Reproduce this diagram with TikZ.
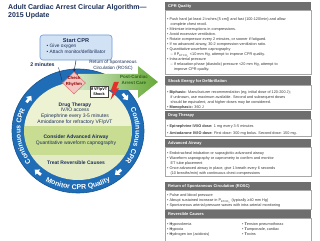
\documentclass[tikz,border=0pt]{standalone}
\usepackage{fontspec}
\setmainfont{Liberation Sans}
\usetikzlibrary{arrows.meta, calc, positioning, shapes.geometric, decorations.text}
\definecolor{navy}{HTML}{1B2F57}
\definecolor{ringblue}{HTML}{1F6DB6}
\definecolor{ringdark}{HTML}{17548F}
\definecolor{paleblue}{HTML}{D2E2F5}
\definecolor{boxblue}{HTML}{6A9AD6}
\definecolor{palegreen}{HTML}{EDF2D3}
\definecolor{lowgreen}{HTML}{E3EBC6}
\definecolor{bandgreen}{HTML}{C8DC92}
\definecolor{arrowgreen}{HTML}{67AA38}
\definecolor{dkgreen}{HTML}{2C641C}
\definecolor{pinkfill}{HTML}{F4C6C1}
\definecolor{pinkline}{HTML}{DC7B7B}
\definecolor{hdrgray}{HTML}{6E6E6E}
\definecolor{rulegray}{HTML}{A8A8A8}
\definecolor{txtgray}{HTML}{3A3A3A}
\definecolor{boltred}{HTML}{E2322B}
\newcommand{\pbul}{\textbullet\ }
\newcommand{\pind}{\hspace*{3.4pt}}
\newcommand{\petco}{P\textsubscript{ETCO\textsubscript{2}}}

\begin{document}
\begin{tikzpicture}[x=1pt, y=1pt,
  >={Stealth[length=3pt, width=3pt]},
  hdrtext/.style={anchor=west, text=white, inner sep=0pt,
    font=\fontsize{4}{5}\selectfont\bfseries},
  secbody/.style={fill=white, draw=rulegray, line width=0.4pt},
  bodytext/.style={anchor=north west, align=left, text=txtgray, inner sep=0pt,
    font=\fontsize{3.8}{5}\selectfont},
  innertext/.style={align=center, text=navy, inner sep=0pt,
    font=\fontsize{5}{5.7}\selectfont},
  ringtext/.style={decorate, decoration={text along path, text align=center,
    text color=white, text={|\fontsize{7}{8}\selectfont\bfseries|#1}}},
  cwarrow/.pic={\fill[white] (-4,-1.4) -- (0,-1.4) -- (0,-3.6) -- (4.2,0)
    -- (0,3.6) -- (0,1.4) -- (-4,1.4) -- cycle;}
]
\useasboundingbox (0,0) rectangle (320,240);
\clip (0,0) rectangle (320,240);
\fill[white] (0,0) rectangle (320,240);

% ── Title ──
\node[anchor=north west, align=left, inner sep=0pt, text=navy,
  font=\fontsize{7}{8}\selectfont\bfseries] (title) at (8,235.5)
  {Adult Cardiac Arrest Circular Algorithm—\\2015 Update};

% ── Start CPR ──
\node[draw=boxblue, fill=paleblue, rounded corners=3pt, line width=0.6pt,
  minimum width=72pt, minimum height=25pt] (start) at (76,192.5) {};
\node[text=navy, inner sep=0pt, font=\fontsize{5.6}{6}\selectfont\bfseries]
  (starttitle) at (76,199) {Start CPR};
\node[anchor=north west, align=left, text=navy, inner sep=0pt,
  font=\fontsize{4.8}{6}\selectfont] (startlist) at (46.5,196)
  {\pbul Give oxygen\\\pbul Attach monitor/defibrillator};

% ── Circle ──
\coordinate (ring) at (78,109);
\fill[ringblue] (ring) ellipse [x radius=66pt, y radius=62pt];
\draw[ringdark, line width=0.6pt] (ring) ellipse [x radius=66pt, y radius=62pt];
\begin{scope}
  \clip (ring) ellipse [x radius=54pt, y radius=49pt];
  \fill[palegreen] (20,114) rectangle (140,160);
  \fill[bandgreen] (20,85) rectangle (140,114);
  \fill[lowgreen] (20,55) rectangle (140,85);
\end{scope}

% ── Ring labels ──
\path[ringtext=Continuous CPR] ($(ring)+(215:57.5pt and 53.5pt)$)
  arc[start angle=215, end angle=157, x radius=57.5pt, y radius=53.5pt];
\path[ringtext=Continuous CPR] ($(ring)+(24:57.5pt and 53.5pt)$)
  arc[start angle=24, end angle=-34, x radius=57.5pt, y radius=53.5pt];
\path[ringtext=Monitor CPR Quality] ($(ring)+(230:62.5pt and 58.5pt)$)
  arc[start angle=230, end angle=310, x radius=62.5pt, y radius=58.5pt];

% ── Clockwise arrows on the ring ──
\pic[rotate=53] at ($(ring)+(145:60pt and 55.5pt)$) {cwarrow};
\pic[rotate=-50] at ($(ring)+(38:60pt and 55.5pt)$) {cwarrow};
\pic[rotate=-140] at ($(ring)+(-48:60pt and 55.5pt)$) {cwarrow};
\pic[rotate=140] at ($(ring)+(228:60pt and 55.5pt)$) {cwarrow};

% ── ROSC arrow ──
\shade[left color=arrowgreen!30, right color=arrowgreen]
  (78,150) -- (138,150) -- (138,142) -- (158,158) -- (138,174)
  -- (138,166) -- (78,166) -- cycle;
\node[align=center, text=dkgreen, inner sep=0pt,
  font=\fontsize{4.5}{5.8}\selectfont\bfseries] (postcare) at (134,160)
  {Post-Cardiac\\Arrest Care};
\node[align=center, text=navy, inner sep=0pt,
  font=\fontsize{4.6}{5.4}\selectfont] (rosc) at (113,174.5)
  {Return of Spontaneous\\Circulation (ROSC)};

% ── Check rhythm ──
\node[diamond, draw=pinkline, fill=pinkfill, line width=0.6pt, inner sep=0pt,
  minimum width=23pt, minimum height=22pt] (check) at (74,157) {};
\node[align=center, text=red!55!black, inner sep=0pt,
  font=\fontsize{4.3}{5.3}\selectfont\bfseries] (checktext) at (74,158.5)
  {Check\\Rhythm};
\draw[->, navy, line width=0.5pt] (start.south) -- (check.north);

% ── Shock ──
\node[draw=black!75, fill=white, line width=0.4pt, align=center, inner sep=0.6pt,
  minimum width=18pt, minimum height=11pt,
  font=\fontsize{3.8}{4.4}\selectfont\bfseries] (shock) at (99,148.5)
  {If VF/pVT\\Shock};
\fill[boltred] (114,158) -- (118.8,158) -- (116.2,151.5) -- (119,151.5)
  -- (110.5,140) -- (113,148.5) -- (110.5,148.5) -- cycle;

% ── 2 minutes ──
\node[text=navy, inner sep=0pt, font=\fontsize{5.2}{6}\selectfont\bfseries]
  (twomin) at (42.5,175) {2 minutes};
\coordinate (tickA) at (58.5,172.5);
\coordinate (tickB) at (62,159.5);
\draw[navy, line width=0.4pt] (tickA) -- (tickB);

% ── Inside the circle ──
\node[innertext] (drug) at (75,126.5)
  {{\bfseries Drug Therapy}\\IV/IO access\\Epinephrine every 3-5 minutes\\
   Amiodarone for refractory VF/pVT};
\node[innertext] (airway) at (76,100)
  {{\bfseries Consider Advanced Airway}\\Quantitative waveform capnography};
\node[innertext, font=\fontsize{5}{5.7}\selectfont\bfseries] (causes)
  at (76,77) {Treat Reversible Causes};

% ── Side panel: CPR Quality ──
\draw[secbody] (165,230) rectangle (311,166);
\fill[hdrgray] (165,238) rectangle (311,230);
\node[hdrtext] (hcpr) at (168,234) {CPR Quality};
\node[bodytext] (bcpr) at (167,222.8)
  {\pbul Push hard (at least 2 inches [5 cm]) and fast (100-120/min) and allow\\
   \pind complete chest recoil.\\
   \pbul Minimize interruptions in compressions.\\
   \pbul Avoid excessive ventilation.\\
   \pbul Rotate compressor every 2 minutes, or sooner if fatigued.\\
   \pbul If no advanced airway, 30:2 compression-ventilation ratio.\\
   \pbul Quantitative waveform capnography\\
   \pind – If \petco\ <10 mm Hg, attempt to improve CPR quality.\\
   \pbul Intra-arterial pressure\\
   \pind – If relaxation phase (diastolic) pressure <20 mm Hg, attempt to\\
   \pind\pind improve CPR quality.};

% ── Side panel: Shock Energy ──
\draw[secbody] (165,154.5) rectangle (311,131);
\fill[hdrgray] (165,163.5) rectangle (311,154.5);
\node[hdrtext] (hshock) at (168,159) {Shock Energy for Defibrillation};
\node[bodytext] (bshock) at (167,149.3)
  {\pbul\textbf{Biphasic:} Manufacturer recommendation (eg, initial dose of 120-200 J);\\
   \pind if unknown, use maximum available. Second and subsequent doses\\
   \pind should be equivalent, and higher doses may be considered.\\
   \pbul\textbf{Monophasic:} 360 J};

% ── Side panel: Drug Therapy ──
\draw[secbody] (165,121) rectangle (311,104);
\fill[hdrgray] (165,128.5) rectangle (311,121);
\node[hdrtext] (hdrug) at (168,124.75) {Drug Therapy};
\node[bodytext] (bdrug) at (167,115.8)
  {\pbul\textbf{Epinephrine IV/IO dose:} 1 mg every 3-5 minutes\\[2pt]
   \pbul\textbf{Amiodarone IV/IO dose:} First dose: 300 mg bolus. Second dose: 150 mg.};

% ── Side panel: Advanced Airway ──
\draw[secbody] (165,93) rectangle (311,64);
\fill[hdrgray] (165,101) rectangle (311,93);
\node[hdrtext] (hairway) at (168,97) {Advanced Airway};
\node[bodytext] (bairway) at (167,88.8)
  {\pbul Endotracheal intubation or supraglottic advanced airway\\
   \pbul Waveform capnography or capnometry to confirm and monitor\\
   \pind ET tube placement\\
   \pbul Once advanced airway in place, give 1 breath every 6 seconds\\
   \pind (10 breaths/min) with continuous chest compressions};

% ── Side panel: ROSC ──
\draw[secbody] (165,50) rectangle (311,31);
\fill[hdrgray] (165,57.5) rectangle (311,50);
\node[hdrtext] (hrosc) at (168,53.75) {Return of Spontaneous Circulation (ROSC)};
\node[bodytext] (brosc) at (167,46.8)
  {\pbul Pulse and blood pressure\\
   \pbul Abrupt sustained increase in \petco\ (typically ≥40 mm Hg)\\
   \pbul Spontaneous arterial pressure waves with intra-arterial monitoring};

% ── Side panel: Reversible Causes ──
\draw[secbody] (165,22) rectangle (311,-3);
\fill[hdrgray] (165,29.5) rectangle (311,22);
\node[hdrtext] (hcauses) at (168,25.75) {Reversible Causes};
\node[bodytext] (bcausesH) at (167,17.3)
  {\pbul\textbf{H}ypovolemia\\\pbul\textbf{H}ypoxia\\\pbul\textbf{H}ydrogen ion (acidosis)};
\node[bodytext] (bcausesT) at (242,17.3)
  {\pbul\textbf{T}ension pneumothorax\\\pbul\textbf{T}amponade, cardiac\\\pbul\textbf{T}oxins};

\end{tikzpicture}
\end{document}
